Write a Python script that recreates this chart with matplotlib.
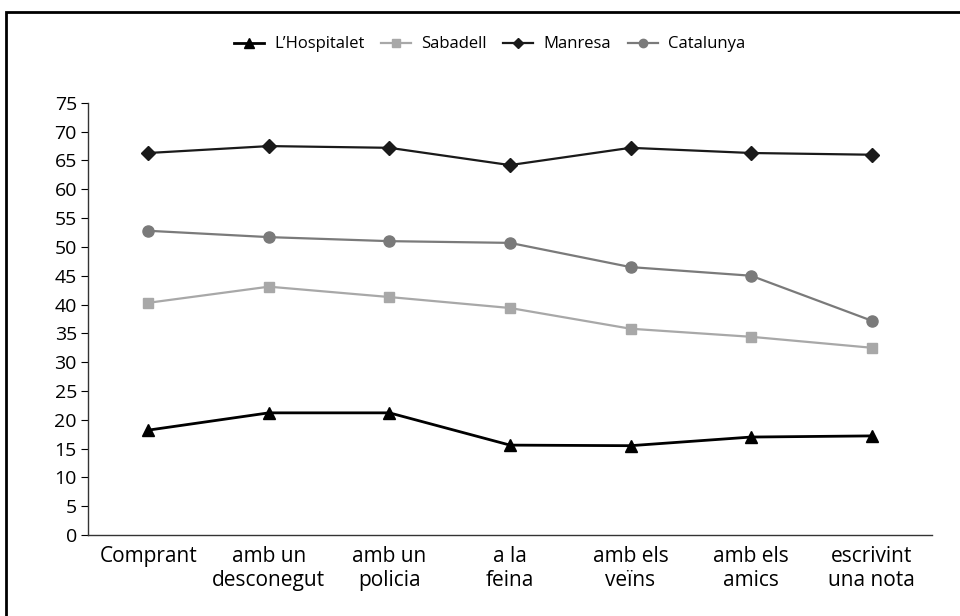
import matplotlib.pyplot as plt
from matplotlib.patches import Rectangle

categories = ["Comprant", "amb un\ndesconegut", "amb un\npolicia", "a la\nfeina",
              "amb els\nveïns", "amb els\namics", "escrivint\nuna nota"]
hospitalet = [18.2, 21.2, 21.2, 15.6, 15.5, 17.0, 17.2]
sabadell = [40.3, 43.1, 41.3, 39.4, 35.8, 34.4, 32.5]
manresa = [66.3, 67.5, 67.2, 64.2, 67.2, 66.3, 66.0]
catalunya = [52.8, 51.7, 51.0, 50.7, 46.5, 45.0, 37.2]

plt.rcParams['font.family'] = ['Open Sans', 'DejaVu Sans']

fig = plt.figure(figsize=(9.6, 6.16), dpi=100)
ax = fig.add_axes([0.0917, 0.1315, 0.879, 0.7015])

x = range(len(categories))
ax.plot(x, hospitalet, color="black", lw=2, marker="^", ms=9, label="L’Hospitalet")
ax.plot(x, sabadell, color="#a8a8a8", lw=1.6, marker="s", ms=7, label="Sabadell")
ax.plot(x, manresa, color="#1a1a1a", lw=1.6, marker="D", ms=7, label="Manresa")
ax.plot(x, catalunya, color="#7a7a7a", lw=1.6, marker="o", ms=8, label="Catalunya")

ax.set_xlim(-0.5, len(categories) - 0.5)
ax.set_ylim(0, 75)
ax.set_yticks(range(0, 80, 5))
ax.set_xticks(list(x))
ax.set_xticklabels(categories, fontsize=15, linespacing=1.15)
ax.tick_params(axis="y", labelsize=14, length=5, direction="out", pad=3)
ax.tick_params(axis="x", length=0, pad=8)
ax.spines["top"].set_visible(False)
ax.spines["right"].set_visible(False)
for s in ("left", "bottom"):
    ax.spines[s].set_linewidth(1.0)
    ax.spines[s].set_color("#333333")

fig.legend(loc="center", bbox_to_anchor=(0.51, 0.928), ncol=4, frameon=False,
           fontsize=12, handlelength=1.8, columnspacing=1.0, handletextpad=0.6,
           markerscale=0.75)

fig.patches.append(Rectangle((0.006, -0.1), 1.1, 1.08, transform=fig.transFigure,
                             fill=False, edgecolor="black", lw=2))

fig.savefig("out.png", dpi=100)
